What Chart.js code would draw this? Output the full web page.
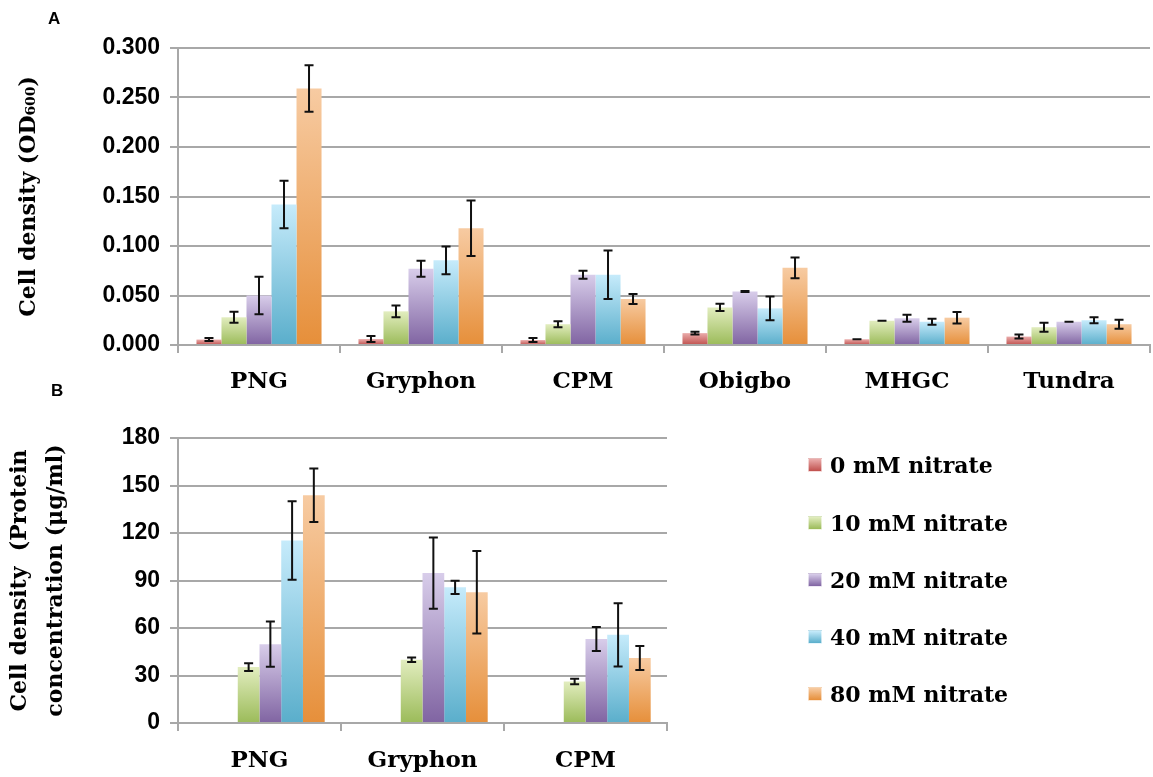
<!DOCTYPE html>
<html>
<head>
<meta charset="utf-8">
<script src="https://cdn.jsdelivr.net/npm/chart.js@4.4.0/dist/chart.umd.min.js"></script>
<style>
html,body{margin:0;padding:0;background:#fff;}
body{width:1153px;height:777px;position:relative;overflow:hidden;}
.wrap{position:absolute;left:0;width:1153px;}
.panel{position:absolute;font:bold 17px "Liberation Sans",Arial,sans-serif;color:#000;line-height:20px;}
.li{position:absolute;left:808px;height:26px;display:flex;align-items:center;white-space:nowrap;font:bold 22px "DejaVu Serif",serif;color:#000;}
.sw{display:inline-block;width:14px;height:14px;margin-right:8px;box-sizing:border-box;border:1px solid rgba(255,255,255,0.6);}
</style>
</head>
<body>
<div class="wrap" style="top:0;height:400px;"><canvas id="chartA"></canvas></div>
<div class="wrap" style="top:400px;height:377px;"><canvas id="chartB"></canvas></div>
<div class="panel" style="left:48px;top:9px;">A</div>
<div class="panel" style="left:51px;top:381px;">B</div>
<div id="legend"></div>
<script>
// ---------- categories & series ----------
const categoriesA = ['PNG', 'Gryphon', 'CPM', 'Obigbo', 'MHGC', 'Tundra'];
const categoriesB = ['PNG', 'Gryphon', 'CPM'];
const seriesNames = ['0 mM nitrate', '10 mM nitrate', '20 mM nitrate', '40 mM nitrate', '80 mM nitrate'];

// ---------- Panel A: cell density (OD600) ----------
const odA_0mM  = [0.0055, 0.006, 0.005, 0.012, 0.0058, 0.0085];
const odA_10mM = [0.028, 0.034, 0.021, 0.038, 0.0245, 0.018];
const odA_20mM = [0.050, 0.077, 0.071, 0.054, 0.027, 0.0235];
const odA_40mM = [0.142, 0.0855, 0.071, 0.037, 0.0235, 0.025];
const odA_80mM = [0.259, 0.118, 0.0465, 0.078, 0.0276, 0.021];

const errA_0mM  = [0.0015, 0.003, 0.002, 0.0015, 0, 0.002];
const errA_10mM = [0.0055, 0.006, 0.003, 0.0037, 0, 0.0045];
const errA_20mM = [0.019, 0.008, 0.004, 0.0005, 0.0035, 0];
const errA_40mM = [0.024, 0.014, 0.0245, 0.012, 0.003, 0.003];
const errA_80mM = [0.0235, 0.028, 0.005, 0.0105, 0.0058, 0.0045];

// ---------- Panel B: protein concentration (ug/ml) ----------
const protB_0mM  = [null, null, null];
const protB_10mM = [35.3, 39.9, 26.2];
const protB_20mM = [49.8, 94.7, 53.1];
const protB_40mM = [115.3, 85.7, 55.7];
const protB_80mM = [143.9, 82.6, 41.0];

const errB_0mM  = [null, null, null];
const errB_10mM = [2.4, 1.4, 1.7];
const errB_20mM = [14.3, 22.5, 7.6];
const errB_40mM = [24.8, 4.2, 20.0];
const errB_80mM = [16.9, 26.0, 7.6];

// ---------- axis ticks ----------
const yTicksA = [0, 0.05, 0.10, 0.15, 0.20, 0.25, 0.30];
const yTicksB = [0, 30, 60, 90, 120, 150, 180];

// ---------- styling ----------
const colorsLight = ['#eaacab', '#e2edbf', '#d8cdea', '#c6ebfb', '#f7cba2'];
const colorsDark  = ['#c0504d', '#9bbb59', '#8064a2', '#5aaecb', '#e68f3a'];
const GRID = '#a8a8a8';

function barGradient(context, i) {
  const chart = context.chart;
  const area = chart.chartArea;
  if (!area || context.type !== 'data') return colorsDark[i];
  const v = context.raw;
  if (v == null) return colorsDark[i];
  const ys = chart.scales.y;
  const top = ys.getPixelForValue(v);
  const bottom = ys.getPixelForValue(0);
  if (!isFinite(top) || !isFinite(bottom) || Math.abs(bottom - top) < 0.5) return colorsDark[i];
  const g = chart.ctx.createLinearGradient(0, top, 0, bottom);
  g.addColorStop(0, colorsLight[i]);
  g.addColorStop(1, colorsDark[i]);
  return g;
}

const errorBars = {
  id: 'errorBars',
  afterDatasetsDraw(chart) {
    const c = chart.ctx, ys = chart.scales.y;
    chart.data.datasets.forEach((ds, i) => {
      if (!ds.errors) return;
      const meta = chart.getDatasetMeta(i);
      meta.data.forEach((bar, j) => {
        const v = ds.data[j], e = ds.errors[j];
        if (v == null || e == null) return;
        const x = bar.x;
        const yt = ys.getPixelForValue(v + e);
        const yb = ys.getPixelForValue(Math.max(0, v - e));
        const half = 4.5;
        c.save();
        c.strokeStyle = '#111';
        c.lineWidth = 2;
        c.beginPath();
        c.moveTo(x, yt); c.lineTo(x, yb);
        c.moveTo(x - half, yt); c.lineTo(x + half, yt);
        c.moveTo(x - half, yb); c.lineTo(x + half, yb);
        c.stroke();
        c.restore();
      });
    });
  }
};

const serifBold = (size) => ({ family: '"DejaVu Serif", serif', weight: 'bold', size: size });
const sansBold = (size) => ({ family: '"Liberation Sans", Arial, sans-serif', weight: 'bold', size: size });

function makeChart(id, labels, datasets, cfg) {
  return new Chart(document.getElementById(id), {
    type: 'bar',
    data: { labels: labels, datasets: datasets },
    options: {
      responsive: true,
      maintainAspectRatio: false,
      animation: false,
      layout: { padding: cfg.padding },
      plugins: { legend: { display: false }, tooltip: { enabled: false } },
      scales: {
        x: {
          grid: { offset: true, drawOnChartArea: false, drawTicks: true, tickLength: 8, color: GRID, lineWidth: 2 },
          border: { color: GRID, width: 2 },
          ticks: { color: '#000', font: serifBold(23), padding: cfg.xPad, autoSkip: false, maxRotation: 0 },
          afterFit(s) { s.height = cfg.xHeight; }
        },
        y: {
          min: cfg.ticks[0],
          max: cfg.ticks[cfg.ticks.length - 1],
          afterBuildTicks(s) { s.ticks = cfg.ticks.map(v => ({ value: v })); },
          ticks: { color: '#000', font: sansBold(23), padding: 10, callback: cfg.fmt },
          grid: { color: GRID, lineWidth: 2, tickLength: 8 },
          border: { color: GRID, width: 2 },
          title: { display: true, text: cfg.title, color: '#000', font: Object.assign(serifBold(22), { lineHeight: cfg.titleLH }), padding: { top: cfg.titlePad, bottom: 0 } },
          afterFit(s) { s.width = 178; }
        }
      }
    },
    plugins: [errorBars]
  });
}

const odA = [odA_0mM, odA_10mM, odA_20mM, odA_40mM, odA_80mM];
const errA = [errA_0mM, errA_10mM, errA_20mM, errA_40mM, errA_80mM];
const dsA = seriesNames.map((n, i) => ({
  label: n, data: odA[i], errors: errA[i],
  backgroundColor: (ctx) => barGradient(ctx, i), borderWidth: 0,
  categoryPercentage: 0.772, barPercentage: 1.0
}));
makeChart('chartA', categoriesA, dsA, {
  padding: { top: 48, right: 3, left: 0, bottom: 0 },
  xHeight: 55, xPad: 15, ticks: yTicksA,
  fmt: (v) => Number(v).toFixed(3),
  title: 'Cell density (OD\u2086\u2080\u2080)', titleLH: 1.2, titlePad: 16
});

const protB = [protB_0mM, protB_10mM, protB_20mM, protB_40mM, protB_80mM];
const errB = [errB_0mM, errB_10mM, errB_20mM, errB_40mM, errB_80mM];
const dsB = [];
seriesNames.forEach((n, i) => {
  dsB.push({
    label: n, data: protB[i], errors: errB[i],
    backgroundColor: (ctx) => barGradient(ctx, i), borderWidth: 0,
    categoryPercentage: 0.80, barPercentage: 1.0
  });
  if (i === 0) {
    // empty slot kept in the original grouping
    dsB.push({ label: '', data: [null, null, null], backgroundColor: 'rgba(0,0,0,0)', categoryPercentage: 0.80, barPercentage: 1.0 });
  }
});
makeChart('chartB', categoriesB, dsB, {
  padding: { top: 38, right: 486, left: 0, bottom: 0 },
  xHeight: 54, xPad: 16, ticks: yTicksB,
  fmt: (v) => String(v),
  title: ['Cell density  (Protein', 'concentration (\u03bcg/ml)'], titleLH: 1.64, titlePad: 2
});

// ---------- legend ----------
const legendRows = [465, 522.5, 580, 637, 694];
const leg = document.getElementById('legend');
seriesNames.forEach((n, i) => {
  const d = document.createElement('div');
  d.className = 'li';
  d.style.top = (legendRows[i] - 13) + 'px';
  const sw = document.createElement('span');
  sw.className = 'sw';
  sw.style.background = 'linear-gradient(to bottom,' + colorsLight[i] + ',' + colorsDark[i] + ')';
  d.appendChild(sw);
  d.appendChild(document.createTextNode(n));
  leg.appendChild(d);
});
</script>
</body>
</html>
